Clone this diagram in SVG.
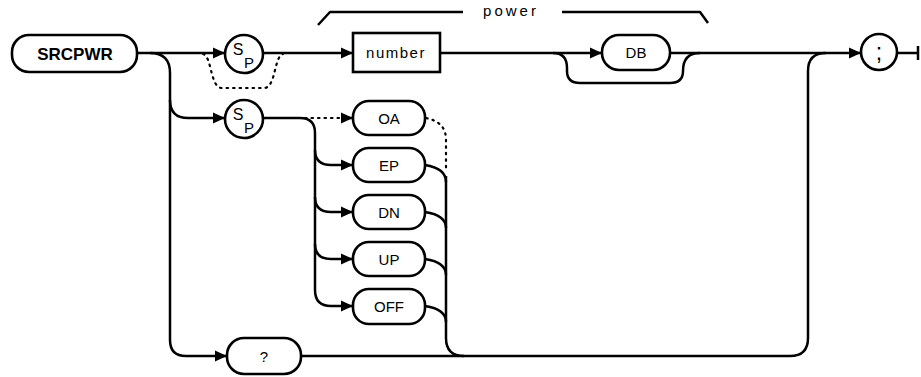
<svg xmlns="http://www.w3.org/2000/svg" width="921" height="377" viewBox="0 0 921 377">
<defs>
<marker id="ah" markerUnits="userSpaceOnUse" markerWidth="14" markerHeight="12" refX="12" refY="6" orient="auto">
<path d="M0,0.5 L12,6 L0,11.5 Z" fill="#000"/>
</marker>
<style>
.ln{fill:none;stroke:#000;stroke-width:2.5;stroke-linejoin:round}
.dt{fill:none;stroke:#000;stroke-width:2.2;stroke-dasharray:1.5 5;stroke-linecap:round}
.bx{fill:#fff;stroke:#000;stroke-width:2.6}
.t{font-family:"Liberation Sans",Arial,sans-serif;font-size:15px;fill:#000;text-anchor:middle}
.b{font-weight:bold;font-size:17px}
.sp{font-family:"Liberation Sans",Arial,sans-serif;fill:#000;text-anchor:middle}
</style>
</defs>
<rect width="921" height="377" fill="#fff"/>
<g id="connectors">
<path class="ln" d="M137,53 H225" marker-end="url(#ah)"/>
<path class="dt" d="M203,54 C212,56 210,88 222,88 H264 C276,88 274,56 283,54"/>
<path class="ln" d="M263,53 H353" marker-end="url(#ah)"/>
<path class="ln" d="M440,53 H602" marker-end="url(#ah)"/>
<path class="ln" d="M553,53 C564,53 567,60 567,68 V71 Q567,83 580,83 H670 Q683,83 683,71 C683,60 688,53 700,53"/>
<path class="ln" d="M670,53 H861" marker-end="url(#ah)"/>
<path class="ln" d="M150,53 Q170,53 170,73 V340 Q170,356 186,356 H227" marker-end="url(#ah)"/>
<path class="ln" d="M170,100 Q170,118 188,118 H225" marker-end="url(#ah)"/>
<path class="ln" d="M263,118 H300 Q315,118 315,133 V290 Q315,306 331,306 H353" marker-end="url(#ah)"/>
<path class="dt" d="M305,118 H342"/>
<path class="ln" d="M342,118 H353" marker-end="url(#ah)"/>
<path class="ln" d="M315,150 Q315,165 331,165 H353" marker-end="url(#ah)"/>
<path class="ln" d="M315,197 Q315,212 331,212 H353" marker-end="url(#ah)"/>
<path class="ln" d="M315,244 Q315,259 331,259 H353" marker-end="url(#ah)"/>
<path class="dt" d="M426,118 C440,121 446,128 446,140 V172"/>
<path class="ln" d="M425,165 C438,167 446,172 446,182"/>
<path class="ln" d="M425,212 C438,214 446,219 446,228"/>
<path class="ln" d="M425,259 C438,261 446,266 446,275"/>
<path class="ln" d="M425,306 C438,308 446,313 446,322"/>
<path class="ln" d="M446,176 V338 Q446,356 464,356"/>
<path class="ln" d="M301,356 H790 Q808,356 808,338 V71 Q808,53 826,53"/>
<path class="ln" d="M897,53 H918 M918,46 V60"/>
<path class="ln" d="M318,25 L330,12 H463 M562,12 H700 L708,23"/>
</g>
<g id="power-label">
<text class="t" x="511" y="16" style="letter-spacing:3px">power</text>
</g>
<g id="n-srcpwr">
<rect class="bx" x="12" y="35" width="125" height="37" rx="17"/>
<text class="t b" x="75" y="60">SRCPWR</text>
</g>
<g id="n-sp1">
<circle class="bx" cx="244" cy="54" r="19"/>
<text class="sp" x="238" y="55" font-size="16">S</text>
<text class="sp" x="249" y="68" font-size="15">P</text>
</g>
<g id="n-sp2">
<circle class="bx" cx="244" cy="119" r="19"/>
<text class="sp" x="238" y="120" font-size="16">S</text>
<text class="sp" x="249" y="133" font-size="15">P</text>
</g>
<g id="n-number">
<rect class="bx" x="353" y="33" width="87" height="39"/>
<text class="t" x="396" y="58" style="letter-spacing:1.5px">number</text>
</g>
<g id="n-db">
<rect class="bx" x="602" y="35" width="68" height="35" rx="17"/>
<text class="t" x="636" y="58">DB</text>
</g>
<g id="n-semi">
<circle class="bx" cx="879" cy="52" r="18"/>
<text class="t" x="879" y="60" style="font-size:23px">;</text>
</g>
<g id="n-oa">
<rect class="bx" x="353" y="101" width="72" height="34" rx="16"/>
<text class="t" x="389" y="124">OA</text>
</g>
<g id="n-ep">
<rect class="bx" x="353" y="148" width="72" height="34" rx="16"/>
<text class="t" x="389" y="171">EP</text>
</g>
<g id="n-dn">
<rect class="bx" x="353" y="195" width="72" height="34" rx="16"/>
<text class="t" x="389" y="218">DN</text>
</g>
<g id="n-up">
<rect class="bx" x="353" y="242" width="72" height="34" rx="16"/>
<text class="t" x="389" y="265">UP</text>
</g>
<g id="n-off">
<rect class="bx" x="353" y="289" width="72" height="35" rx="16"/>
<text class="t" x="389" y="312">OFF</text>
</g>
<g id="n-query">
<rect class="bx" x="227" y="338" width="74" height="36" rx="17"/>
<text class="t" x="264" y="362">?</text>
</g>
</svg>
